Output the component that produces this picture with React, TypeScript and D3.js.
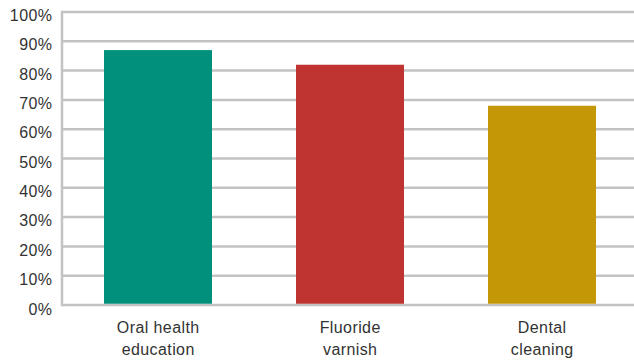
import React from "react";
import * as d3 from "d3";

const categories: string[][] = [
  ["Oral health", "education"],
  ["Fluoride", "varnish"],
  ["Dental", "cleaning"],
];
const values: number[] = [87, 82, 68];
const barColors: string[] = ["#00907b", "#bf3330", "#c49707"];
const yTicks: number[] = [0, 10, 20, 30, 40, 50, 60, 70, 80, 90, 100];

const W = 634;
const H = 360;
const margin = { left: 62, right: -4, top: 12, bottom: 55 };

export default function App() {
  const x = d3
    .scaleBand<number>()
    .domain(values.map((_, i) => i))
    .range([margin.left, W - margin.right])
    .paddingInner(0.4375)
    .paddingOuter(0.21875);
  const y = d3
    .scaleLinear()
    .domain([0, 100])
    .range([H - margin.bottom, margin.top]);
  // tick labels sit on a slightly wider spacing than the grid
  const yLabel = d3.scaleLinear().domain([0, 100]).range([314.5, 21]);

  const font = "'Liberation Sans', Arial, Helvetica, sans-serif";
  const gridColor = "#c3c3c6";

  return (
    <svg
      width={W}
      height={H}
      style={{ position: "absolute", left: 0, top: 0, display: "block" }}
    >
      <rect width={W} height={H} fill="#ffffff" />
      {yTicks.map((t) => (
        <line
          key={t}
          x1={margin.left}
          x2={W}
          y1={y(t)}
          y2={y(t)}
          stroke={gridColor}
          strokeWidth={2.5}
        />
      ))}
      <line
        x1={margin.left}
        x2={margin.left}
        y1={y(100) - 1.25}
        y2={y(0) + 1.25}
        stroke={gridColor}
        strokeWidth={2.5}
      />
      {values.map((v, i) => (
        <rect
          key={i}
          x={x(i)}
          y={y(v)}
          width={x.bandwidth()}
          height={y(0) - y(v) - 1.25}
          fill={barColors[i]}
        />
      ))}
      {yTicks.map((t) => (
        <text
          key={t}
          x={52.4}
          y={yLabel(t)}
          textAnchor="end"
          fontFamily={font}
          fontSize={16}
          letterSpacing={0.4}
          fill="#333333"
        >
          {t}%
        </text>
      ))}
      {categories.map((lines, i) => (
        <text
          key={i}
          x={(x(i) as number) + x.bandwidth() / 2}
          y={333}
          textAnchor="middle"
          fontFamily={font}
          fontSize={16}
          letterSpacing={0.4}
          fill="#333333"
        >
          {lines.map((l, j) => (
            <tspan key={j} x={(x(i) as number) + x.bandwidth() / 2 + 0.2} dy={j === 0 ? 0 : 22}>
              {l}
            </tspan>
          ))}
        </text>
      ))}
    </svg>
  );
}
